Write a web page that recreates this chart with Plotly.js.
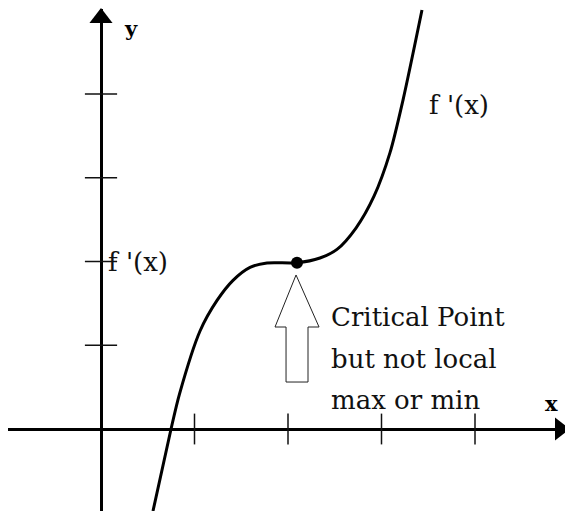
<!DOCTYPE html>
<html>
<head>
<meta charset="utf-8">
<script src="https://cdn.plot.ly/plotly-3.0.1.min.js"></script>
<style>html,body{margin:0;padding:0;background:#fff;}#chart{width:565px;height:511px;}</style>
</head>
<body>
<div id="chart"></div>
<script>
// Curve f'(x) (axis units: 1 tick = 1)
const curveX = [0.556, 0.749, 0.840, 1.059, 1.241, 1.412, 1.594, 1.775, 2.096, 2.342, 2.524, 2.727, 2.920, 3.091, 3.230, 3.433];
const curveY = [-0.979, 0, 0.420, 1.170, 1.535, 1.775, 1.930, 1.982, 1.985, 2.042, 2.145, 2.400, 2.780, 3.300, 3.928, 5.003];
// Critical point
const pointX = [2.096];
const pointY = [1.985];
// Tick marks
const xTicks = [1, 2, 3, 4];
const yTicks = [1, 2, 3, 4];
// Texts
const curveLabel = "f '(x)";
const axisLabelX = "x";
const axisLabelY = "y";
const noteLines = ["Critical Point", "but not local", "max or min"];

const serif = "DejaVu Serif";
const zeros = n => new Array(n).fill(0);

const traces = [
  {x: xTicks, y: zeros(xTicks.length), mode: 'markers', hoverinfo: 'skip',
   marker: {symbol: 'line-ns', size: 22, line: {width: 1.5, color: '#111'}}},
  {x: zeros(yTicks.length), y: yTicks, mode: 'markers', hoverinfo: 'skip',
   marker: {symbol: 'line-ew', size: 23, line: {width: 1.5, color: '#111'}}},
  {x: [0], y: [4.907], mode: 'markers', hoverinfo: 'skip', cliponaxis: false,
   marker: {symbol: 'triangle-up', size: 20, color: '#000'}},
  {x: [4.909], y: [0], mode: 'markers', hoverinfo: 'skip', cliponaxis: false,
   marker: {symbol: 'triangle-right', size: 20, color: '#000'}},
  {x: curveX, y: curveY, mode: 'lines', hoverinfo: 'skip',
   line: {color: '#000', width: 3, shape: 'spline', smoothing: 0.8}},
  {x: pointX, y: pointY, mode: 'markers', hoverinfo: 'skip',
   marker: {color: '#000', size: 12}}
];

const noteY = [1.337, 0.836, 0.346];
const annotations = [
  {x: 0.053, y: 2.0, text: curveLabel, xanchor: 'left', yanchor: 'middle'},
  {x: 3.487, y: 3.869, text: curveLabel, xanchor: 'left', yanchor: 'middle'},
  {x: 0.321, y: 4.788, text: '<b>' + axisLabelY + '</b>', xanchor: 'center', yanchor: 'middle', font: {family: serif, size: 21, color: '#000'}},
  {x: 4.813, y: 0.310, text: '<b>' + axisLabelX + '</b>', xanchor: 'center', yanchor: 'middle', font: {family: serif, size: 21, color: '#000'}}
].concat(noteLines.map((t, i) => ({x: 2.439, y: noteY[i], text: t, xanchor: 'left', yanchor: 'middle'})))
 .map(a => Object.assign({showarrow: false, xref: 'x', yref: 'y', font: {family: serif, size: 26, color: '#111'}}, a));

const layout = {
  width: 565, height: 511,
  margin: {l: 8, r: 0, t: 9, b: 0, pad: 0},
  paper_bgcolor: '#fff', plot_bgcolor: '#fff',
  showlegend: false,
  xaxis: {range: [-0.9947, 4.9626], showgrid: false, zeroline: true, zerolinewidth: 3, zerolinecolor: '#000',
          showticklabels: false, ticks: '', showline: false, fixedrange: true},
  yaxis: {range: [-0.979, 5.015], showgrid: false, zeroline: true, zerolinewidth: 3, zerolinecolor: '#000',
          showticklabels: false, ticks: '', showline: false, fixedrange: true},
  shapes: [{
    type: 'path', xref: 'x', yref: 'y',
    path: 'M 2.086 1.839 L 2.332 1.218 L 2.214 1.218 L 2.214 0.561 L 1.979 0.561 L 1.979 1.218 L 1.861 1.218 Z',
    line: {color: '#222', width: 1}, fillcolor: '#fff'
  }],
  annotations: annotations
};

Plotly.newPlot('chart', traces, layout, {displayModeBar: false, staticPlot: true});
</script>
</body>
</html>
